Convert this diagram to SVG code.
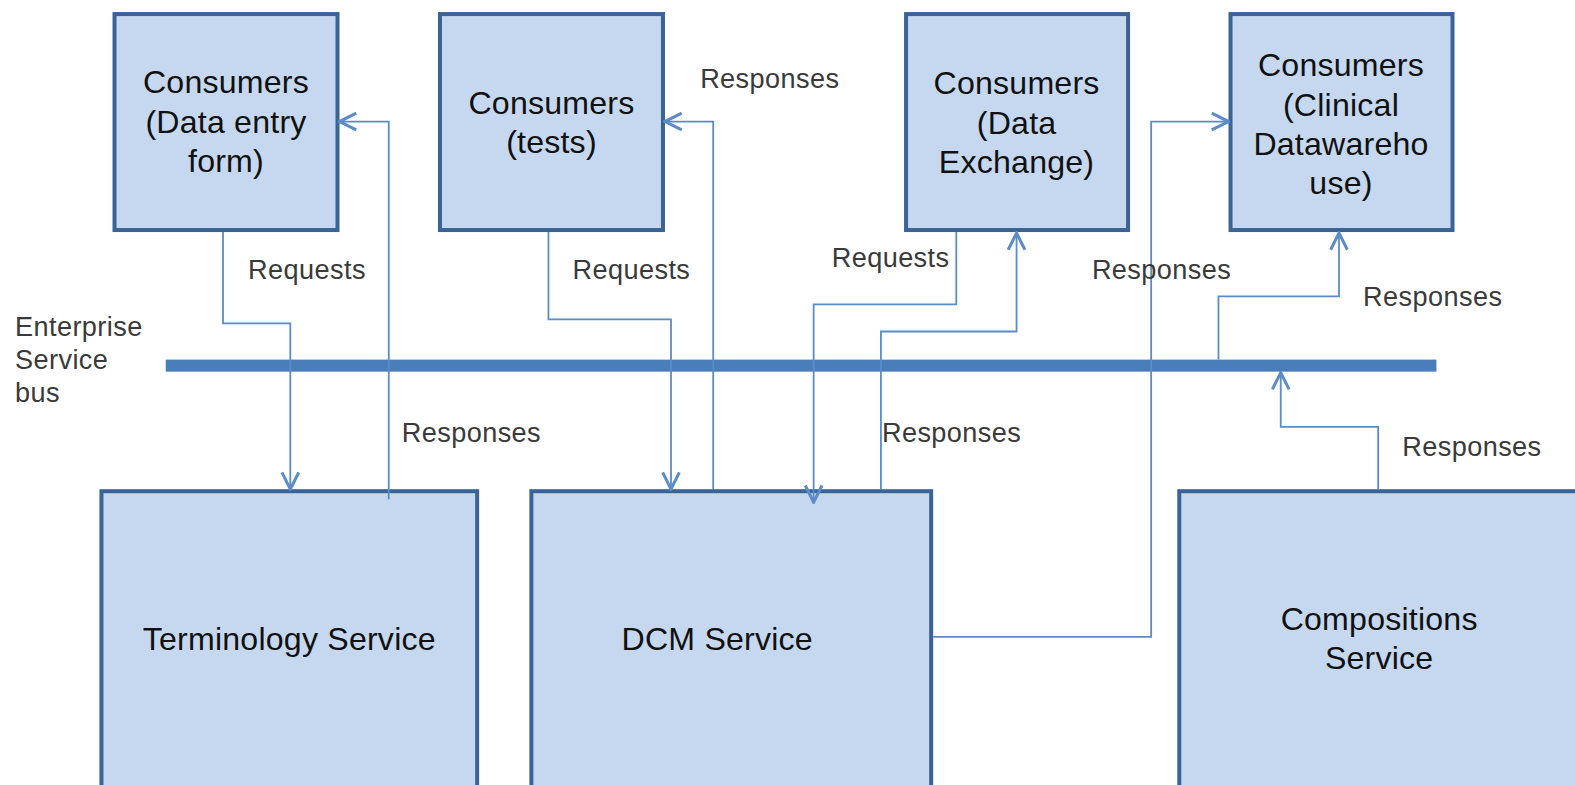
<svg xmlns="http://www.w3.org/2000/svg" width="1575" height="785" viewBox="0 0 1575 785">
<style>
.box{fill:#c6d8ef;stroke:#3a6496;stroke-width:4}
.bt{font-family:"Liberation Sans",Arial,sans-serif;font-size:32px;letter-spacing:0.2px;fill:#111;text-anchor:middle}
.lb{font-family:"Liberation Sans",Arial,sans-serif;font-size:27px;letter-spacing:0.4px;fill:#3a3a3a}
.cn{fill:none;stroke:#5b8cc9;stroke-width:1.8;marker-end:url(#ah)}
</style>
<defs>
<marker id="ah" markerUnits="userSpaceOnUse" markerWidth="20" markerHeight="20" viewBox="0 0 12 12" refX="11" refY="6" orient="auto">
<path d="M1,1 L11,6 L1,11" fill="none" stroke="#5b8cc9" stroke-width="1.8"/>
</marker>
</defs>
<rect width="1575" height="785" fill="#fff"/>
<g transform="scale(1.0045)">
<g id="esb">
<rect x="165" y="358" width="1265" height="12" fill="#4a7ebb"/>
<text class="lb" x="15" y="334">Enterprise</text>
<text class="lb" x="15" y="367">Service</text>
<text class="lb" x="15" y="400">bus</text>
</g>
<g id="consumers-data-entry">
<rect class="box" x="114" y="14" width="222" height="215"/>
<text class="bt" x="225" y="93">Consumers</text>
<text class="bt" x="225" y="132">(Data entry</text>
<text class="bt" x="225" y="171">form)</text>
</g>
<g id="consumers-tests">
<rect class="box" x="438" y="14" width="222" height="215"/>
<text class="bt" x="549" y="113">Consumers</text>
<text class="bt" x="549" y="152">(tests)</text>
</g>
<g id="consumers-data-exchange">
<rect class="box" x="902" y="14" width="221" height="215"/>
<text class="bt" x="1012" y="94">Consumers</text>
<text class="bt" x="1012" y="133">(Data</text>
<text class="bt" x="1012" y="172">Exchange)</text>
</g>
<g id="consumers-clinical-dwh">
<rect class="box" x="1225" y="14" width="221" height="215"/>
<text class="bt" x="1335" y="76">Consumers</text>
<text class="bt" x="1335" y="115">(Clinical</text>
<text class="bt" x="1335" y="154">Datawareho</text>
<text class="bt" x="1335" y="193">use)</text>
</g>
<g id="terminology-service">
<rect class="box" x="101" y="489" width="374" height="320"/>
<text class="bt" x="288" y="647">Terminology Service</text>
</g>
<g id="dcm-service">
<rect class="box" x="529" y="489" width="398" height="320"/>
<text class="bt" x="714" y="647">DCM Service</text>
</g>
<g id="compositions-service">
<rect class="box" x="1174" y="489" width="420" height="320"/>
<text class="bt" x="1373" y="627">Compositions</text>
<text class="bt" x="1373" y="666">Service</text>
</g>
<g id="connectors">
<polyline class="cn" points="222,231 222,322 289,322 289,487"/>
<polyline class="cn" points="387,497 387,121 338,121"/>
<polyline class="cn" points="546,231 546,318 668,318 668,487"/>
<polyline class="cn" points="710,487 710,121 662,121"/>
<polyline class="cn" points="952,231 952,303 810,303 810,500"/>
<polyline class="cn" points="877,487 877,330 1012,330 1012,232"/>
<polyline class="cn" points="929,634 1146,634 1146,121 1223,121"/>
<polyline class="cn" points="1372,487 1372,425 1275,425 1275,371"/>
<polyline class="cn" points="1213,358 1213,295 1333,295 1333,232"/>
<text class="lb" x="247" y="278">Requests</text>
<text class="lb" x="570" y="278">Requests</text>
<text class="lb" x="828" y="266">Requests</text>
<text class="lb" x="697" y="88">Responses</text>
<text class="lb" x="1087" y="278">Responses</text>
<text class="lb" x="1357" y="305">Responses</text>
<text class="lb" x="400" y="440">Responses</text>
<text class="lb" x="878" y="440">Responses</text>
<text class="lb" x="1396" y="454">Responses</text>
</g>
</g>
</svg>
